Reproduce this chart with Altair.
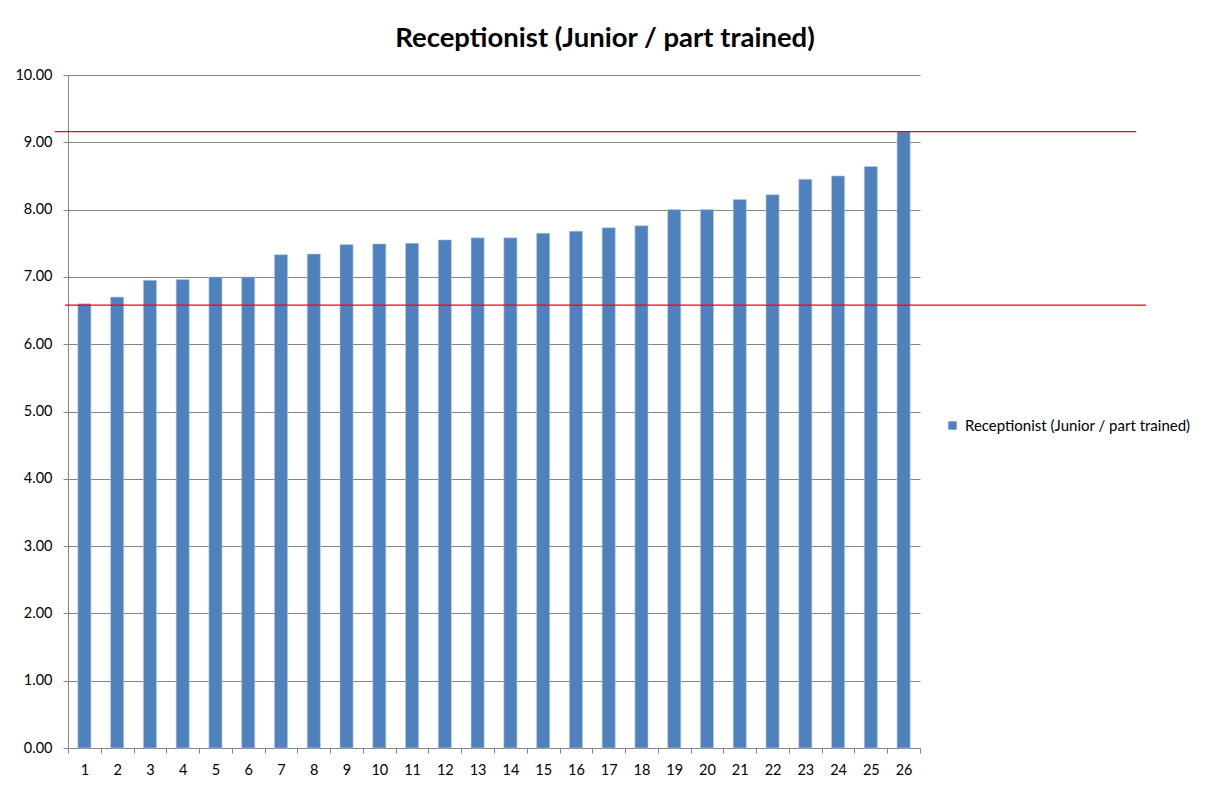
import altair as alt
import pandas as pd

categories = [str(i) for i in range(1, 27)]
values = [6.60, 6.70, 6.95, 6.96, 7.00, 7.00, 7.33, 7.34, 7.48, 7.49, 7.50, 7.55, 7.58,
          7.58, 7.65, 7.68, 7.73, 7.76, 8.00, 8.00, 8.15, 8.22, 8.45, 8.50, 8.64, 9.16]
series_name = "Receptionist (Junior / part trained)"
ref_lines = [9.16, 6.58]

FONT = "Lato"
GREY = "#868686"

df = pd.DataFrame({"cat": categories, "val": values, "series": series_name})

x_enc = alt.X("cat:N", sort=categories, title=None,
              scale=alt.Scale(paddingInner=0, paddingOuter=0),
              axis=alt.Axis(labelAngle=0, tickBand="extent", ticks=True, tickSize=5,
                            tickColor=GREY, domainColor=GREY, labelPadding=10,
                            labelFont=FONT, labelFontSize=14.5, labelColor="#000000", grid=False))

bars = alt.Chart(df).mark_bar(width=alt.RelativeBandSize(0.4), stroke="#b9cde5", strokeWidth=0.6).encode(
    x=x_enc,
    y=alt.Y("val:Q", title=None,
            scale=alt.Scale(domain=[0, 10], nice=False),
            axis=alt.Axis(values=list(range(0, 11)), format=".2f", tickSize=5, tickColor=GREY,
                          domainColor=GREY, gridColor=GREY, labelPadding=11,
                          labelFont=FONT, labelFontSize=14.5, labelColor="#000000")),
    color=alt.Color("series:N", scale=alt.Scale(range=["#4f81bd"]),
                    legend=alt.Legend(title=None, orient="none", legendX=877, legendY=343,
                                      symbolType="square", symbolSize=70, symbolStrokeWidth=0,
                                      labelFont=FONT, labelFontSize=15, labelColor="#000000",
                                      labelLimit=400, symbolOffset=0, labelOffset=5))
)

ref_df = pd.DataFrame({"y": ref_lines, "x0": [-13, -3], "x1": [1068, 1078]})
rules = alt.Chart(ref_df).mark_rule(color="#ff0000", strokeWidth=1.3, clip=False).encode(
    y="y:Q",
    x=alt.X("x0:Q", scale=None),
    x2="x1:Q",
)

chart = alt.layer(bars, rules).properties(
    width=852, height=673,
    title=alt.Title(series_name, font=FONT, fontSize=27.5, fontWeight="bold", color="#000000",
                    anchor="middle", dx=111, offset=15),
    autosize=alt.AutoSizeParams(type="none"),
    padding={"left": 60, "top": 67, "right": 280, "bottom": 28},
).configure_view(stroke=None).configure_axisY(gridWidth=1)

chart.save("out.html", embed_options={"renderer": "svg", "actions": False})
